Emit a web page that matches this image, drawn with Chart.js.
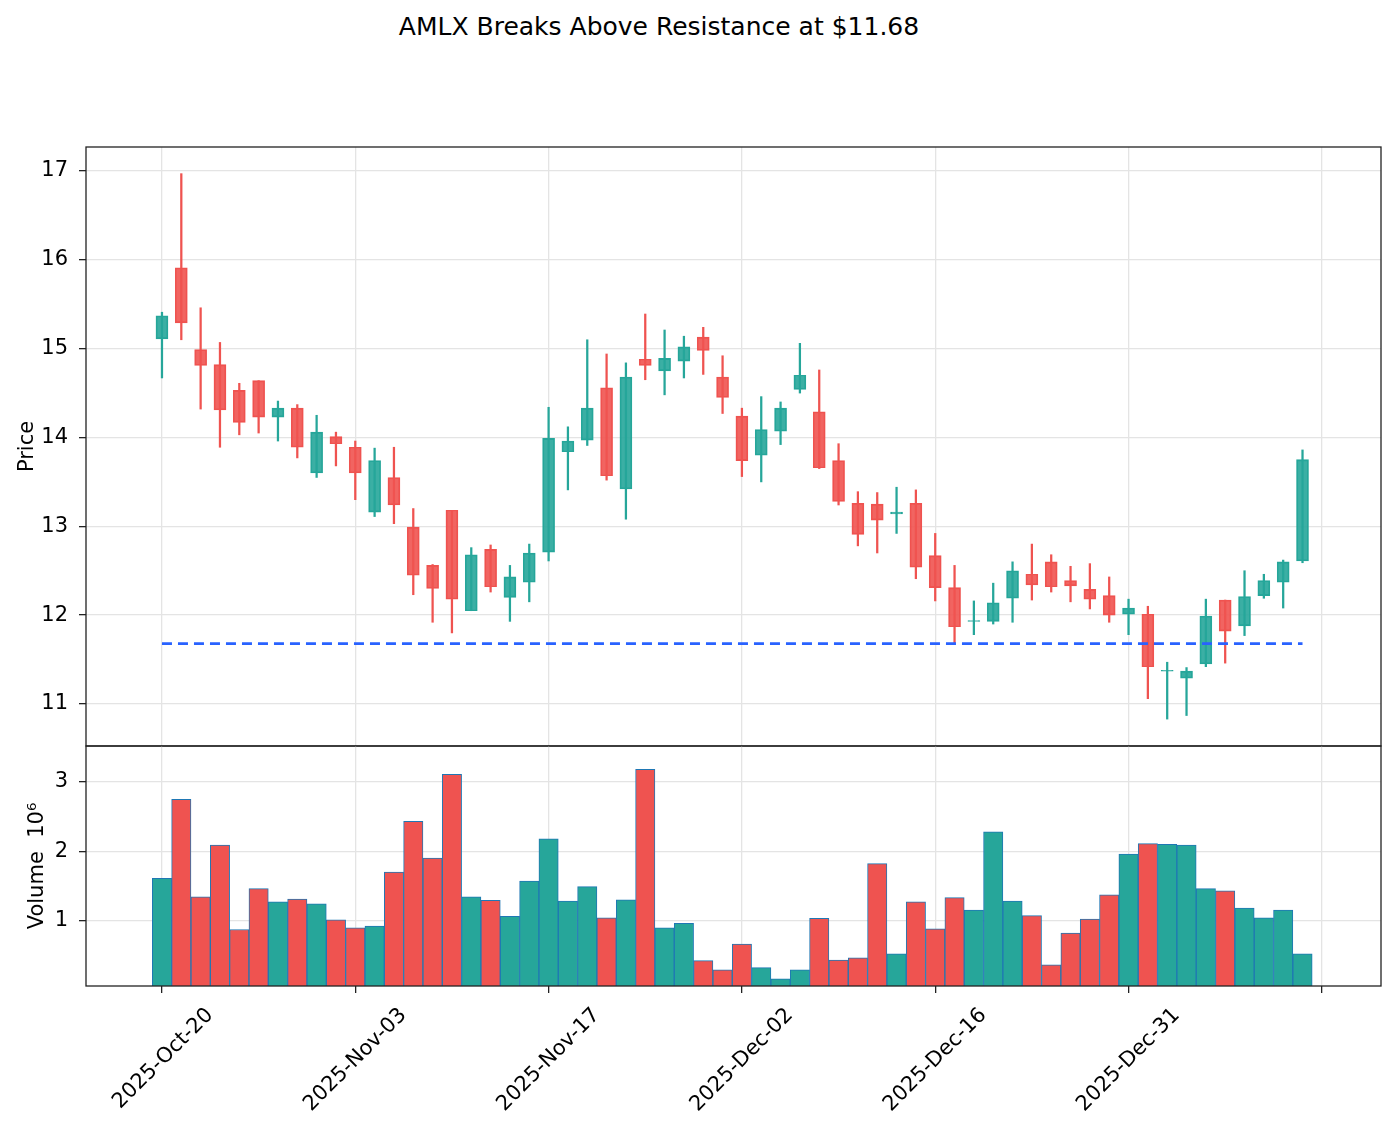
<!DOCTYPE html>
<html>
<head>
<meta charset="utf-8">
<script src="https://cdn.jsdelivr.net/npm/chart.js@4.4.1/dist/chart.umd.min.js"></script>
<style>
  html, body { margin: 0; padding: 0; background: #fff; }
  #wrap { position: relative; width: 1395px; height: 1126px; overflow: hidden; }
  #title { position: absolute; left: 0; top: 11px; width: 1318px; text-align: center;
           font: 25px "DejaVu Sans", sans-serif; line-height: 32px; color: #000; }
  canvas { position: absolute; left: 0; }
  #priceChart { top: 0; }
  #volChart { top: 700px; }
</style>
</head>
<body>
<div id="wrap">
  <div id="title">AMLX Breaks Above Resistance at $11.68</div>
  <canvas id="priceChart" width="1395" height="760"></canvas>
  <canvas id="volChart" width="1395" height="426"></canvas>
</div>
<script>
/* global Chart */
// trading days (x index 0..59)
const dates = [
  "2025-Oct-20", "2025-Oct-21", "2025-Oct-22", "2025-Oct-23", "2025-Oct-24",
  "2025-Oct-27", "2025-Oct-28", "2025-Oct-29", "2025-Oct-30", "2025-Oct-31",
  "2025-Nov-03", "2025-Nov-04", "2025-Nov-05", "2025-Nov-06", "2025-Nov-07",
  "2025-Nov-10", "2025-Nov-11", "2025-Nov-12", "2025-Nov-13", "2025-Nov-14",
  "2025-Nov-17", "2025-Nov-18", "2025-Nov-19", "2025-Nov-20", "2025-Nov-21",
  "2025-Nov-24", "2025-Nov-25", "2025-Nov-26", "2025-Nov-28", "2025-Dec-01",
  "2025-Dec-02", "2025-Dec-03", "2025-Dec-04", "2025-Dec-05", "2025-Dec-08",
  "2025-Dec-09", "2025-Dec-10", "2025-Dec-11", "2025-Dec-12", "2025-Dec-15",
  "2025-Dec-16", "2025-Dec-17", "2025-Dec-18", "2025-Dec-19", "2025-Dec-22",
  "2025-Dec-23", "2025-Dec-24", "2025-Dec-26", "2025-Dec-29", "2025-Dec-30",
  "2025-Dec-31", "2026-Jan-02", "2026-Jan-05", "2026-Jan-06", "2026-Jan-07",
  "2026-Jan-08", "2026-Jan-09", "2026-Jan-12", "2026-Jan-13", "2026-Jan-14"
];

const opens = [
  15.11, 15.91, 14.99, 14.82, 14.53, 14.64, 14.23, 14.33, 13.60, 14.01,
  13.89, 13.16, 13.55, 12.99, 12.56, 13.18, 12.05, 12.74, 12.20, 12.37,
  12.71, 13.84, 13.97, 14.56, 13.42, 14.88, 14.75, 14.86, 15.13, 14.68,
  14.24, 13.80, 14.07, 14.54, 14.29, 13.74, 13.26, 13.25, 13.14, 13.26,
  12.67, 12.31, 11.93, 11.93, 12.19, 12.46, 12.60, 12.39, 12.29, 12.22,
  12.01, 12.01, 11.37, 11.29, 11.45, 12.17, 11.88, 12.22, 12.37, 12.61
];
const highs = [
  15.41, 16.97, 15.46, 15.07, 14.61, 14.64, 14.41, 14.37, 14.25, 14.06,
  13.96, 13.88, 13.89, 13.20, 12.57, 13.18, 12.76, 12.79, 12.56, 12.80,
  14.34, 14.12, 15.10, 14.94, 14.84, 15.39, 15.21, 15.14, 15.24, 14.92,
  14.33, 14.46, 14.40, 15.06, 14.76, 13.93, 13.39, 13.38, 13.44, 13.41,
  12.92, 12.56, 12.16, 12.36, 12.60, 12.80, 12.68, 12.55, 12.58, 12.43,
  12.18, 12.10, 11.47, 11.41, 12.18, 12.17, 12.50, 12.46, 12.62, 13.86
];
const lows = [
  14.67, 15.10, 14.32, 13.89, 14.03, 14.05, 13.96, 13.77, 13.55, 13.68,
  13.30, 13.11, 13.03, 12.23, 11.92, 11.80, 12.05, 12.26, 11.93, 12.15,
  12.61, 13.41, 13.91, 13.52, 13.08, 14.65, 14.48, 14.67, 14.71, 14.27,
  13.56, 13.50, 13.92, 14.50, 13.65, 13.24, 12.78, 12.70, 12.92, 12.41,
  12.16, 11.69, 11.78, 11.90, 11.92, 12.17, 12.26, 12.15, 12.07, 11.92,
  11.78, 11.06, 10.83, 10.87, 11.42, 11.46, 11.77, 12.19, 12.08, 12.59
];
const closes = [
  15.37, 15.29, 14.81, 14.31, 14.17, 14.23, 14.33, 13.89, 14.06, 13.93,
  13.60, 13.74, 13.24, 12.45, 12.30, 12.18, 12.68, 12.32, 12.43, 12.70,
  13.99, 13.96, 14.33, 13.57, 14.68, 14.81, 14.89, 15.02, 14.98, 14.45,
  13.74, 14.09, 14.33, 14.70, 13.66, 13.28, 12.91, 13.07, 13.16, 12.54,
  12.31, 11.87, 11.94, 12.14, 12.50, 12.34, 12.32, 12.33, 12.18, 12.00,
  12.08, 11.42, 11.38, 11.37, 11.99, 11.82, 12.21, 12.39, 12.60, 13.75
];
// volume in millions (axis label "Volume 10^6")
const volumes = [
  1.61, 2.75, 1.34, 2.09, 0.87, 1.46, 1.27, 1.31, 1.24, 1.01,
  0.895, 0.92, 1.70, 2.43, 1.90, 3.11, 1.34, 1.29, 1.06, 1.57,
  2.18, 1.28, 1.49, 1.04, 1.30, 3.18, 0.895, 0.96, 0.42, 0.29,
  0.66, 0.32, 0.16, 0.29, 1.03, 0.43, 0.46, 1.82, 0.52, 1.27,
  0.88, 1.33, 1.15, 2.28, 1.28, 1.07, 0.36, 0.82, 1.02, 1.37,
  1.96, 2.11, 2.10, 2.09, 1.46, 1.43, 1.18, 1.04, 1.15, 0.52
];
const resistance = 11.68;
const priceTicks = [11, 12, 13, 14, 15, 16, 17];
const volTicks = [1, 2, 3];
const xTickIdx = [0, 10, 20, 30, 40, 50, 60];

const UP = "#26a69a", DOWN = "#ef5350";
const UP_A = "rgba(38,166,154,0.9)", DOWN_A = "rgba(239,83,80,0.9)";
const FONT = "'DejaVu Sans', sans-serif";

const isUp = (i) => closes[i] >= opens[i];
const idx = dates.map((_, i) => i);

// black box round the plot area
const frame = {
  id: "frame",
  afterDraw(c) {
    const { ctx, chartArea: a } = c;
    ctx.save();
    ctx.strokeStyle = "#222";
    ctx.lineWidth = 1.3;
    ctx.strokeRect(a.left, a.top, a.right - a.left, a.bottom - a.top);
    ctx.restore();
  }
};

const gridColor = "#e4e4e4";
const X_MIN = -3.93, X_MAX = 63.06;

function yAxis(min, max, ticks, title, titlePad) {
  return {
    type: "linear", min, max,
    afterFit: (s) => { s.width = 86; s.paddingTop = 0; s.paddingBottom = 0; },
    afterBuildTicks: (s) => { s.ticks = ticks.map(v => ({ value: v })); },
    border: { display: false },
    grid: { color: gridColor, lineWidth: 1.3, tickColor: "#222", tickLength: 7, tickWidth: 1.3 },
    ticks: { color: "#000", font: { family: FONT, size: 21 }, padding: 11 },
    title: { display: true, text: title, color: "#000", font: { family: FONT, size: 21 }, padding: { top: titlePad, bottom: 0 } }
  };
}

new Chart(document.getElementById("priceChart").getContext("2d"), {
  type: "bar",
  data: {
    datasets: [
      {
        label: "wick",
        data: idx.map(i => ({ x: i, y: [lows[i], highs[i]] })),
        backgroundColor: idx.map(i => isUp(i) ? UP : DOWN),
        barThickness: 1.6,
        grouped: false,
        order: 3
      },
      {
        label: "body",
        data: idx.map(i => ({ x: i, y: [opens[i], closes[i]] })),
        backgroundColor: idx.map(i => isUp(i) ? UP_A : DOWN_A),
        borderColor: idx.map(i => isUp(i) ? UP : DOWN),
        borderWidth: 1.2,
        borderSkipped: false,
        barThickness: 12,
        grouped: false,
        order: 2
      },
      {
        type: "line",
        label: "resistance",
        data: [{ x: 0, y: resistance }, { x: dates.length - 1, y: resistance }],
        borderColor: "#2962ff",
        borderWidth: 2.6,
        borderDash: [10, 6],
        pointRadius: 0,
        order: 1
      }
    ]
  },
  options: {
    responsive: false,
    animation: false,
    devicePixelRatio: 1,
    layout: { padding: { top: 147, right: 14, bottom: 14, left: 0 } },
    plugins: { legend: { display: false }, tooltip: { enabled: false }, title: { display: false } },
    scales: {
      x: {
        type: "linear", min: X_MIN, max: X_MAX, offset: false,
        afterFit: (s) => { s.height = 0; s.paddingLeft = 0; s.paddingRight = 0; },
        afterBuildTicks: (s) => { s.ticks = xTickIdx.map(v => ({ value: v })); },
        border: { display: false },
        grid: { color: gridColor, lineWidth: 1.3, drawTicks: false, offset: false },
        ticks: { display: false }
      },
      y: yAxis(10.527, 17.27, priceTicks, "Price", 15)
    }
  },
  plugins: [frame]
});

new Chart(document.getElementById("volChart").getContext("2d"), {
  type: "bar",
  data: {
    datasets: [{
      label: "volume",
      data: idx.map(i => ({ x: i, y: volumes[i] })),
      backgroundColor: idx.map(i => isUp(i) ? UP : DOWN),
      borderColor: "#1f77b4",
      borderWidth: 1,
      borderSkipped: false,
      barPercentage: 1,
      categoryPercentage: 1
    }]
  },
  options: {
    responsive: false,
    animation: false,
    devicePixelRatio: 1,
    layout: { padding: { top: 46, right: 14, bottom: 0, left: 0 } },
    plugins: { legend: { display: false }, tooltip: { enabled: false } },
    scales: {
      x: {
        type: "linear", min: X_MIN, max: X_MAX, offset: false,
        afterFit: (s) => { s.height = 140; s.paddingLeft = 0; s.paddingRight = 0; },
        afterBuildTicks: (s) => { s.ticks = xTickIdx.map(v => ({ value: v })); },
        border: { display: false },
        grid: { color: gridColor, lineWidth: 1.3, tickColor: "#222", tickLength: 7, tickWidth: 1.3, offset: false },
        ticks: {
          color: "#000", font: { family: FONT, size: 21 },
          minRotation: 45, maxRotation: 45, autoSkip: false,
          labelOffset: 48, padding: 10,
          callback: (v) => dates[v] || ""
        }
      },
      y: yAxis(0.055, 3.518, volTicks, "Volume  10\u2076", 25)
    }
  },
  plugins: [frame]
});
</script>
</body>
</html>
